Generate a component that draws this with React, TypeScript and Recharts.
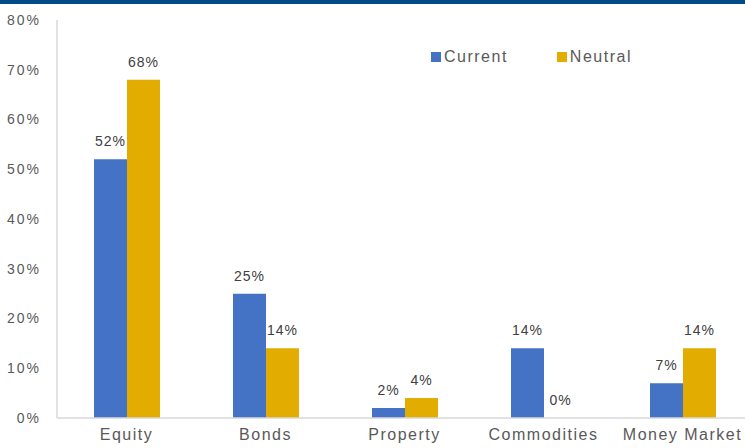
import React from 'react'
import { BarChart, Bar, XAxis, YAxis, LabelList } from 'recharts'

const categories = ['Equity', 'Bonds', 'Property', 'Commodities', 'Money Market']
const currentValues = [52, 25, 2, 14, 7]
const neutralValues = [68, 14, 4, 0, 14]
const yTicks = [0, 10, 20, 30, 40, 50, 60, 70, 80]

const BLUE = '#4472C4'
const GOLD = '#E2AC00'
const TEXT = '#595959'

const data = categories.map((name, i) => ({
  name,
  Current: currentValues[i],
  Neutral: neutralValues[i],
}))

const XTick = ({ x, y, payload }: any) => (
  <text
    x={x}
    y={y}
    dy={14}
    textAnchor="middle"
    fill={TEXT}
    fontSize={16}
    style={{ letterSpacing: 1.5 }}
  >
    {payload.value}
  </text>
)

// legend drawn as html on top of the chart so it doesn't eat plot space
const LegendBox = () => (
  <div
    style={{
      position: 'absolute',
      top: 48,
      left: 431,
      display: 'flex',
      alignItems: 'center',
      zIndex: 2,
    }}
  >
    {[
      { label: 'Current', color: BLUE },
      { label: 'Neutral', color: GOLD },
    ].map((item, i) => (
      <div key={item.label} style={{ display: 'flex', alignItems: 'center', marginRight: i === 0 ? 49 : 0 }}>
        <span style={{ display: 'inline-block', width: 10, height: 10, background: item.color, marginRight: 3 }} />
        <span style={{ fontSize: 16, color: TEXT, letterSpacing: 1.5 }}>{item.label}</span>
      </div>
    ))}
  </div>
)

export default function App() {
  return (
    <div
      style={{
        position: 'fixed',
        top: 0,
        left: 0,
        width: 745,
        height: 448,
        overflow: 'hidden',
        background: '#fff',
        fontFamily: 'Liberation Sans, Arial, sans-serif',
      }}
    >
      <div style={{ position: 'absolute', top: 0, left: 0, width: 745, height: 4, background: '#004C86', zIndex: 2 }} />
      <LegendBox />
      <BarChart
        width={759}
        height={448}
        data={data}
        margin={{ top: 20, right: 7, left: 7, bottom: 0 }}
        barCategoryGap={37}
        barGap={0}
      >
        <XAxis
          dataKey="name"
          tickLine={false}
          axisLine={{ stroke: '#D9D9D9', strokeWidth: 1.5 }}
          height={30}
          tick={<XTick />}
          interval={0}
        />
        <YAxis
          domain={[0, 80]}
          ticks={yTicks}
          width={50}
          tickLine={false}
          tickSize={0}
          tickMargin={16}
          axisLine={{ stroke: '#D9D9D9', strokeWidth: 1.5 }}
          tickFormatter={(v) => `${v}%`}
          tick={{ fill: TEXT, fontSize: 14, style: { letterSpacing: 2 } }}
        />
        <Bar dataKey="Current" fill={BLUE} isAnimationActive={false} minPointSize={0.01}>
          <LabelList
            dataKey="Current"
            position="top"
            offset={13}
            fill="#404040"
            fontSize={14}
            formatter={(v: any) => `${v}%`}
            style={{ letterSpacing: 1 }}
          />
        </Bar>
        <Bar dataKey="Neutral" fill={GOLD} isAnimationActive={false} minPointSize={0.01}>
          <LabelList
            dataKey="Neutral"
            position="top"
            offset={13}
            fill="#404040"
            fontSize={14}
            formatter={(v: any) => `${v}%`}
            style={{ letterSpacing: 1 }}
          />
        </Bar>
      </BarChart>
    </div>
  )
}
